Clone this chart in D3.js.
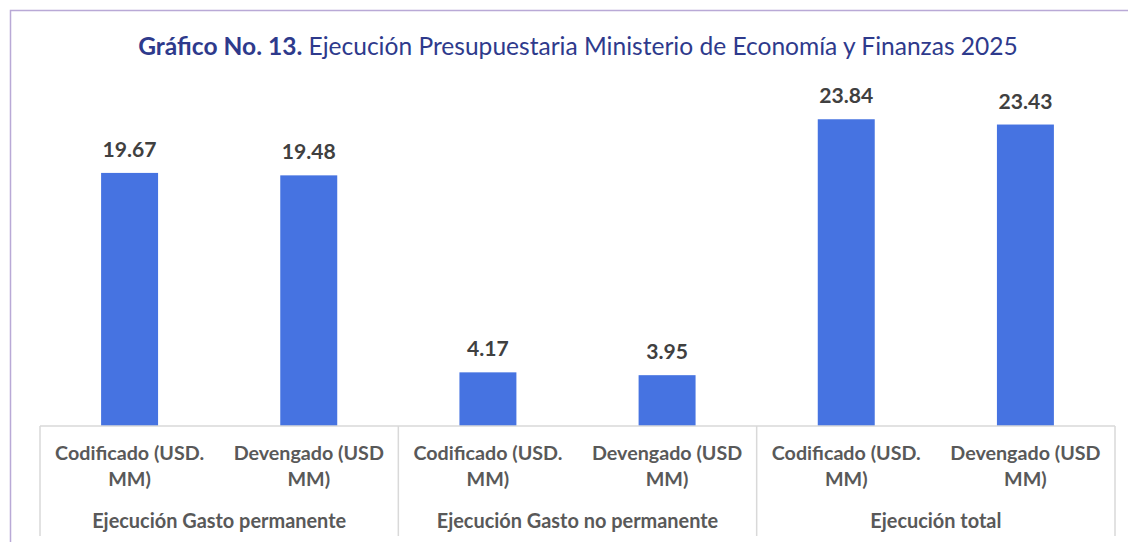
<!DOCTYPE html>
<html>
<head>
<meta charset="utf-8">
<script src="https://cdn.jsdelivr.net/npm/d3@7"></script>
<style>
  html, body { margin: 0; padding: 0; background: #ffffff; }
  svg { display: block; }
  text { font-family: Lato, "Open Sans", sans-serif; }
</style>
</head>
<body>
<div id="chart"></div>
<script>
// ---- data ----
const titleBold = "Gráfico No. 13.";
const titleRest = " Ejecución Presupuestaria Ministerio de Economía y Finanzas 2025";
const groups = ["Ejecución Gasto permanente", "Ejecución Gasto no permanente", "Ejecución total"];
const categoryLine1 = ["Codificado (USD.", "Devengado (USD", "Codificado (USD.", "Devengado (USD", "Codificado (USD.", "Devengado (USD"];
const categoryLine2 = ["MM)", "MM)", "MM)", "MM)", "MM)", "MM)"];
const categoryGroup = [0, 0, 1, 1, 2, 2];
const values = [19.67, 19.48, 4.17, 3.95, 23.84, 23.43];
const valueLabels = ["19.67", "19.48", "4.17", "3.95", "23.84", "23.43"];

// ---- layout ----
const W = 1128, H = 542;
const left = 40, right = 1115, base = 426, axisBottom = 536;

const svg = d3.select("#chart").append("svg").attr("width", W).attr("height", H);

// outer frame
svg.append("rect")
  .attr("x", 10.5).attr("y", 10.5).attr("width", 1200).attr("height", 600)
  .attr("fill", "#ffffff").attr("stroke", "#B9A9D6").attr("stroke-width", 1.5);

// fit a text element to a target width
function fit(sel, target) {
  const node = sel.node();
  const w = node.getComputedTextLength();
  const fs = parseFloat(sel.attr("font-size"));
  sel.attr("font-size", (fs * target / w).toFixed(2));
}

// title
const title = svg.append("text")
  .attr("x", 578).attr("y", 55).attr("text-anchor", "middle")
  .attr("font-size", 22).attr("fill", "#2E3A8C");
title.append("tspan").attr("font-weight", "bold").text(titleBold);
title.append("tspan").attr("font-weight", "normal").text(titleRest);
fit(title, 880);

const idx = d3.range(values.length);
const x = d3.scaleBand().domain(idx).range([left, right]).paddingInner(0.682).paddingOuter(0.341);
const y = d3.scaleLinear().domain([0, 30]).range([base, 40]);

// bars
svg.append("g").selectAll("rect").data(idx).join("rect")
  .attr("x", i => x(i)).attr("width", x.bandwidth())
  .attr("y", i => y(values[i])).attr("height", i => base - y(values[i]))
  .attr("fill", "#4673E1");

// value labels
const probe = svg.append("text").attr("font-size", 20).attr("font-weight", "bold").text("19.67");
fit(probe, 54);
const valFs = probe.attr("font-size");
probe.remove();
svg.append("g").selectAll("text").data(idx).join("text")
  .attr("x", i => x(i) + x.bandwidth() / 2)
  .attr("y", i => y(values[i]) - 16)
  .attr("text-anchor", "middle").attr("font-weight", "bold")
  .attr("font-size", valFs).attr("fill", "#404040")
  .text(i => valueLabels[i]);

// axis lines (multi-level category axis)
const axis = svg.append("g").attr("stroke", "#D9D9D9").attr("stroke-width", 1.5);
axis.append("line").attr("x1", left).attr("x2", right).attr("y1", base).attr("y2", base);
const step = x.step();
const bounds = [0, 2, 4, 6].map(k => k === 6 ? right : x(k) - x.paddingOuter() * step);
bounds.forEach(bx => {
  axis.append("line").attr("x1", bx).attr("x2", bx).attr("y1", base).attr("y2", axisBottom);
});

// category labels
const probe2 = svg.append("text").attr("font-size", 18).attr("font-weight", "bold").text(categoryLine1[0]);
fit(probe2, 149);
const catFs = probe2.attr("font-size");
probe2.remove();
const cat = svg.append("g").attr("font-weight", "bold").attr("font-size", catFs)
  .attr("fill", "#595959").attr("text-anchor", "middle");
idx.forEach(i => {
  const cx = x(i) + x.bandwidth() / 2;
  cat.append("text").attr("x", cx).attr("y", 460).text(categoryLine1[i]);
  cat.append("text").attr("x", cx).attr("y", 486).text(categoryLine2[i]);
});

// group labels
const probe3 = svg.append("text").attr("font-size", 18).attr("font-weight", "bold").text(groups[0]);
fit(probe3, 254);
const grpFs = probe3.attr("font-size");
probe3.remove();
svg.append("g").selectAll("text").data(groups).join("text")
  .attr("x", (g, j) => (bounds[j] + bounds[j + 1]) / 2)
  .attr("y", 528)
  .attr("text-anchor", "middle").attr("font-weight", "bold")
  .attr("font-size", grpFs).attr("fill", "#595959")
  .text(g => g);
</script>
</body>
</html>
